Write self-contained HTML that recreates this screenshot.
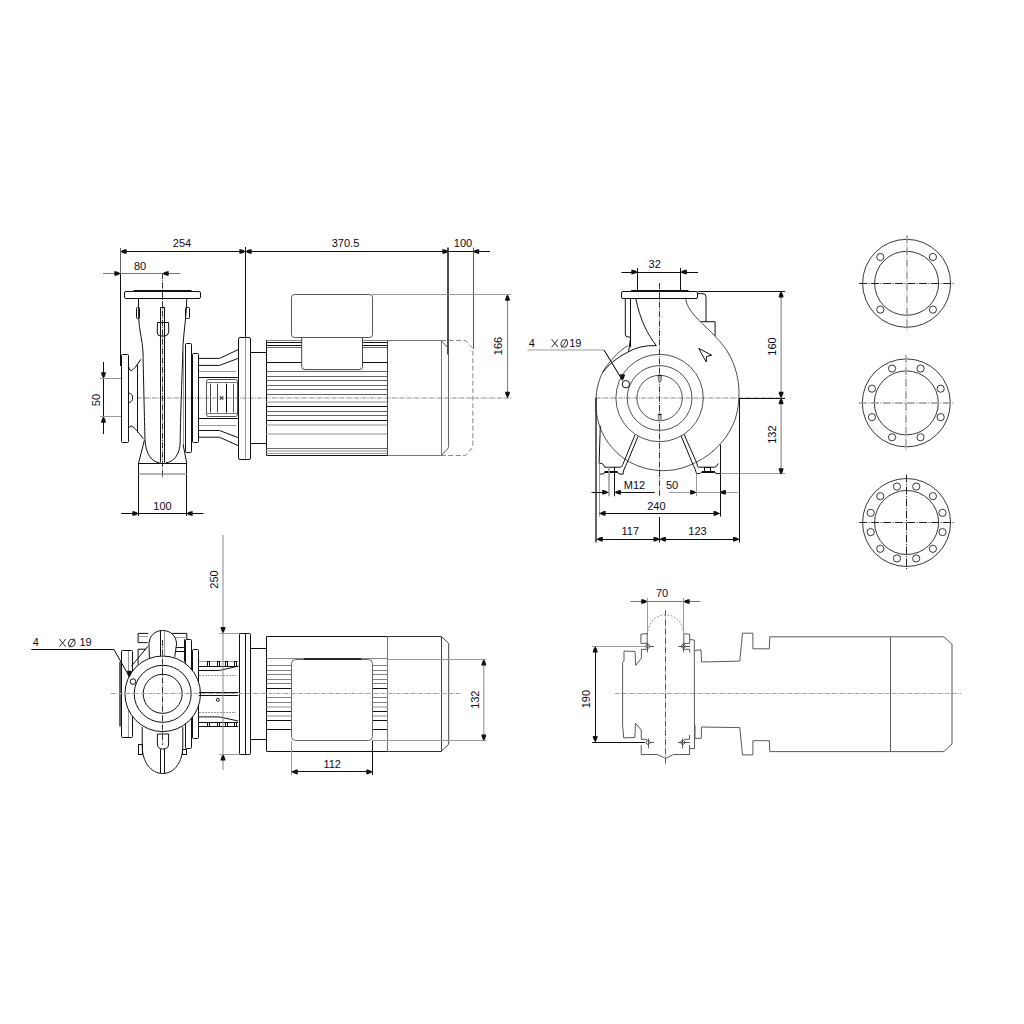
<!DOCTYPE html>
<html><head><meta charset="utf-8"><style>
html,body{margin:0;padding:0;background:#fff;width:1024px;height:1024px;overflow:hidden}
svg{display:block}
text{font-family:"Liberation Sans",sans-serif;fill:#0a0a1e}
</style></head><body>
<svg width="1024" height="1024" viewBox="0 0 1024 1024">
<rect width="1024" height="1024" fill="#fff"/>
<line x1="137" y1="398" x2="511" y2="398" stroke="#8a8a8a" stroke-width="1" stroke-dasharray="4.5,1,1,1"/>
<line x1="162.5" y1="273" x2="162.5" y2="478" stroke="#333" stroke-width="1" stroke-dasharray="6,1.2,1,1.2"/>
<line x1="120.5" y1="251.5" x2="490" y2="251.5" stroke="#111" stroke-width="1"/>
<polygon points="120.5,251.5 122.7,252.9 125.3,253.8 126.7,253.8 126.7,249.2 125.3,249.2 122.7,250.1" fill="#111"/>
<polygon points="245.5,251.5 243.3,250.1 240.7,249.2 239.3,249.2 239.3,253.8 240.7,253.8 243.3,252.9" fill="#111"/>
<polygon points="245.5,251.5 247.7,252.9 250.3,253.8 251.7,253.8 251.7,249.2 250.3,249.2 247.7,250.1" fill="#111"/>
<polygon points="448.5,251.5 446.3,250.1 443.7,249.2 442.3,249.2 442.3,253.8 443.7,253.8 446.3,252.9" fill="#111"/>
<polygon points="473,251.5 475.2,252.9 477.8,253.8 479.2,253.8 479.2,249.2 477.8,249.2 475.2,250.1" fill="#111"/>
<text x="182" y="243" font-size="11" text-anchor="middle" dominant-baseline="central">254</text>
<text x="345.5" y="243" font-size="11" text-anchor="middle" dominant-baseline="central">370.5</text>
<text x="463" y="243" font-size="11" text-anchor="middle" dominant-baseline="central">100</text>
<line x1="120.5" y1="248" x2="120.5" y2="274" stroke="#666" stroke-width="1"/>
<line x1="120.5" y1="274" x2="120.5" y2="366" stroke="#111" stroke-width="1"/>
<line x1="245.5" y1="247" x2="245.5" y2="337.5" stroke="#111" stroke-width="1"/>
<line x1="448" y1="247.5" x2="448" y2="354.5" stroke="#111" stroke-width="1.5"/>
<line x1="473.5" y1="247.5" x2="473.5" y2="349" stroke="#555" stroke-width="1"/>
<line x1="103" y1="273.5" x2="180" y2="273.5" stroke="#777" stroke-width="1"/>
<polygon points="120.5,273.5 118.3,272.1 115.7,271.2 114.3,271.2 114.3,275.8 115.7,275.8 118.3,274.9" fill="#111"/>
<polygon points="162.5,273.5 164.7,274.9 167.3,275.8 168.7,275.8 168.7,271.2 167.3,271.2 164.7,272.1" fill="#111"/>
<text x="140" y="266" font-size="11" text-anchor="middle" dominant-baseline="central">80</text>
<line x1="507.6" y1="294.5" x2="507.6" y2="398" stroke="#777" stroke-width="1"/>
<polygon points="507.5,294.5 506.1,296.7 505.2,299.3 505.2,300.7 509.8,300.7 509.8,299.3 508.9,296.7" fill="#111"/>
<polygon points="507.5,398 508.9,395.8 509.8,393.2 509.8,391.8 505.2,391.8 505.2,393.2 506.1,395.8" fill="#111"/>
<line x1="372" y1="294.5" x2="511" y2="294.5" stroke="#9a9a9a" stroke-width="1"/>
<text x="0" y="0" font-size="11" text-anchor="middle" dominant-baseline="central" transform="translate(498 346) rotate(-90)">166</text>
<line x1="103.5" y1="362" x2="103.5" y2="434" stroke="#111" stroke-width="1"/>
<polygon points="103.5,378.5 104.9,376.3 105.8,373.7 105.8,372.3 101.2,372.3 101.2,373.7 102.1,376.3" fill="#111"/>
<polygon points="103.5,416.5 102.1,418.7 101.2,421.3 101.2,422.7 105.8,422.7 105.8,421.3 104.9,418.7" fill="#111"/>
<line x1="100" y1="378.5" x2="121" y2="378.5" stroke="#9a9a9a" stroke-width="1"/>
<line x1="100" y1="416.5" x2="121" y2="416.5" stroke="#9a9a9a" stroke-width="1"/>
<text x="0" y="0" font-size="11" text-anchor="middle" dominant-baseline="central" transform="translate(95.5 400) rotate(-90)">50</text>
<line x1="121" y1="513.5" x2="203.5" y2="513.5" stroke="#111" stroke-width="1"/>
<polygon points="138.5,513.5 136.3,512.1 133.7,511.2 132.3,511.2 132.3,515.8 133.7,515.8 136.3,514.9" fill="#111"/>
<polygon points="186.5,513.5 188.7,514.9 191.3,515.8 192.7,515.8 192.7,511.2 191.3,511.2 188.7,512.1" fill="#111"/>
<line x1="138.5" y1="463" x2="138.5" y2="516" stroke="#111" stroke-width="1"/>
<line x1="186.5" y1="463" x2="186.5" y2="516" stroke="#111" stroke-width="1"/>
<text x="162.5" y="505.5" font-size="11" text-anchor="middle" dominant-baseline="central">100</text>
<rect x="124.5" y="291.5" width="76" height="7" rx="1.5" stroke="#111" stroke-width="1" fill="none"/>
<line x1="133.5" y1="291" x2="191.5" y2="291" stroke="#111" stroke-width="2"/>
<rect x="136.5" y="307.5" width="3" height="11" rx="1" stroke="#111" stroke-width="1" fill="none"/>
<rect x="185.5" y="307.5" width="4" height="11" rx="1" stroke="#111" stroke-width="1" fill="none"/>
<path d="M138.5 298.5 L138.7 318 C139 330 142.5 340 143 352 C143.5 380 144.5 420 145 440 C146 455 152 462 159.5 462.7" stroke="#111" stroke-width="1" fill="none"/>
<path d="M186.8 298.5 C186.5 315 184 330 183 345 C182 380 180.3 420 180.2 442 C180 455 173 462.5 165.9 462.7" stroke="#111" stroke-width="1" fill="none"/>
<line x1="160.5" y1="307.5" x2="160.5" y2="462.5" stroke="#111" stroke-width="1"/>
<line x1="164.5" y1="307.5" x2="164.5" y2="462.5" stroke="#111" stroke-width="1"/>
<line x1="160.5" y1="307.5" x2="164.8" y2="307.5" stroke="#111" stroke-width="1"/>
<path d="M157.5 322.5 L168.5 322.5 L168.8 332 Q168 336 164.8 336 L160.5 336 Q157.3 336 157.2 332 Z" stroke="#111" stroke-width="1" fill="none"/>
<rect x="121.5" y="354.5" width="7" height="88" rx="1" stroke="#111" stroke-width="1" fill="none"/>
<path d="M128.6 366.8 Q129.5 371 131.1 370.6 Q134 370 140.8 359.3" stroke="#111" stroke-width="1" fill="none"/>
<path d="M128.8 393 Q133 394 132.6 397.8 Q133 401.5 128.8 402.6" stroke="#111" stroke-width="1" fill="none"/>
<path d="M128.6 428 Q129.5 426 131.1 426 Q134 426 143.4 438.9" stroke="#111" stroke-width="1" fill="none"/>
<line x1="137.5" y1="364.7" x2="137.5" y2="432.4" stroke="#111" stroke-width="1"/>
<rect x="185.5" y="343.5" width="6" height="109" rx="1" stroke="#111" stroke-width="1" fill="none"/>
<rect x="192.5" y="353.5" width="6" height="89" rx="1" stroke="#111" stroke-width="1" fill="none"/>
<line x1="183.5" y1="345" x2="183.5" y2="445" stroke="#9a9a9a" stroke-width="1"/>
<line x1="144.4" y1="440.2" x2="138.5" y2="463.3" stroke="#111" stroke-width="1"/>
<line x1="183.1" y1="444.5" x2="186.8" y2="463.3" stroke="#111" stroke-width="1"/>
<line x1="138.5" y1="463.5" x2="186.8" y2="463.5" stroke="#111" stroke-width="1"/>
<line x1="138.5" y1="474" x2="186.8" y2="474" stroke="#9a9a9a" stroke-width="1.5"/>
<path d="M198.7 358.4 L219.5 358.4 L238.9 349.3" stroke="#111" stroke-width="1" fill="none"/>
<path d="M198.7 365.4 L219.5 365.4 L238.9 358.1" stroke="#111" stroke-width="1" fill="none"/>
<line x1="198.7" y1="371.5" x2="236" y2="371.5" stroke="#9a9a9a" stroke-width="1"/>
<line x1="198.7" y1="377.5" x2="238" y2="377.5" stroke="#111" stroke-width="1"/>
<rect x="206.5" y="379.5" width="31" height="37" rx="2" stroke="#555" stroke-width="1" fill="none"/>
<line x1="206.3" y1="382.5" x2="237.1" y2="382.5" stroke="#777" stroke-width="1"/>
<line x1="206.3" y1="413.5" x2="237.1" y2="413.5" stroke="#777" stroke-width="1"/>
<line x1="210.5" y1="383.7" x2="210.5" y2="412.5" stroke="#444" stroke-width="1"/>
<line x1="217.5" y1="383.7" x2="217.5" y2="412.5" stroke="#444" stroke-width="1"/>
<line x1="226.5" y1="383.7" x2="226.5" y2="412.5" stroke="#000" stroke-width="1"/>
<line x1="233.5" y1="383.7" x2="233.5" y2="412.5" stroke="#555" stroke-width="1"/>
<path d="M219.8 396 L223.2 400 M223.2 396 L219.8 400 M220 398 L223 398" stroke="#333" stroke-width="1" fill="none"/>
<line x1="198.7" y1="418.5" x2="238" y2="418.5" stroke="#111" stroke-width="1"/>
<line x1="198.7" y1="425.5" x2="236" y2="425.5" stroke="#9a9a9a" stroke-width="1"/>
<path d="M198.7 430.5 L219.5 430.5 L238.9 437.9" stroke="#111" stroke-width="1" fill="none"/>
<path d="M198.7 437.2 L219.5 437.2 L238.9 446" stroke="#111" stroke-width="1" fill="none"/>
<rect x="238.5" y="337.5" width="12" height="122" rx="1.5" stroke="#111" stroke-width="1" fill="none"/>
<line x1="245.5" y1="337.3" x2="245.5" y2="459.2" stroke="#9a9a9a" stroke-width="1"/>
<line x1="250.6" y1="352.5" x2="266.4" y2="352.5" stroke="#111" stroke-width="1"/>
<line x1="250.6" y1="443.5" x2="266.4" y2="443.5" stroke="#111" stroke-width="1"/>
<line x1="266.4" y1="340.5" x2="387.8" y2="340.5" stroke="#888" stroke-width="1"/>
<line x1="266.4" y1="455.5" x2="387.8" y2="455.5" stroke="#111" stroke-width="1"/>
<line x1="266.5" y1="340.3" x2="266.5" y2="455" stroke="#111" stroke-width="1"/>
<line x1="387.5" y1="340.3" x2="387.5" y2="455" stroke="#666" stroke-width="1"/>
<line x1="266.4" y1="342.5" x2="301.7" y2="342.5" stroke="#111" stroke-width="1"/>
<line x1="362.5" y1="342.5" x2="387.8" y2="342.5" stroke="#111" stroke-width="1"/>
<line x1="266.4" y1="345.5" x2="301.7" y2="345.5" stroke="#111" stroke-width="1"/>
<line x1="362.5" y1="345.5" x2="387.8" y2="345.5" stroke="#111" stroke-width="1"/>
<line x1="266.4" y1="347.5" x2="301.7" y2="347.5" stroke="#666" stroke-width="1"/>
<line x1="362.5" y1="347.5" x2="387.8" y2="347.5" stroke="#666" stroke-width="1"/>
<line x1="266.4" y1="362.5" x2="301.7" y2="362.5" stroke="#111" stroke-width="1"/>
<line x1="362.5" y1="362.5" x2="387.8" y2="362.5" stroke="#111" stroke-width="1"/>
<line x1="266.4" y1="371.5" x2="387.8" y2="371.5" stroke="#666" stroke-width="1"/>
<line x1="266.4" y1="376.5" x2="387.8" y2="376.5" stroke="#666" stroke-width="1"/>
<line x1="266.4" y1="380.5" x2="387.8" y2="380.5" stroke="#666" stroke-width="1"/>
<line x1="266.4" y1="385.5" x2="387.8" y2="385.5" stroke="#666" stroke-width="1"/>
<line x1="266.4" y1="389.5" x2="387.8" y2="389.5" stroke="#666" stroke-width="1"/>
<line x1="266.4" y1="394.5" x2="387.8" y2="394.5" stroke="#666" stroke-width="1"/>
<line x1="266.4" y1="402" x2="387.8" y2="402" stroke="#b4b4b4" stroke-width="1.5"/>
<line x1="266.4" y1="406.5" x2="387.8" y2="406.5" stroke="#111" stroke-width="1"/>
<line x1="266.4" y1="411.5" x2="387.8" y2="411.5" stroke="#666" stroke-width="1"/>
<line x1="266.4" y1="415.5" x2="387.8" y2="415.5" stroke="#666" stroke-width="1"/>
<line x1="266.4" y1="420.5" x2="387.8" y2="420.5" stroke="#111" stroke-width="1"/>
<line x1="266.4" y1="425" x2="387.8" y2="425" stroke="#b4b4b4" stroke-width="1.5"/>
<line x1="266.4" y1="434" x2="387.8" y2="434" stroke="#b4b4b4" stroke-width="1.5"/>
<line x1="266.4" y1="448.5" x2="387.8" y2="448.5" stroke="#666" stroke-width="1"/>
<line x1="266.4" y1="451" x2="387.8" y2="451" stroke="#b4b4b4" stroke-width="1.5"/>
<line x1="266.4" y1="453.5" x2="387.8" y2="453.5" stroke="#9a9a9a" stroke-width="1"/>
<path d="M301.7 337.2 L301.7 366.5 Q301.7 369.6 305 369.6 L359.2 369.6 Q362.5 369.6 362.5 366.5 L362.5 337.2" stroke="#444" stroke-width="1" fill="#fff"/>
<rect x="291.5" y="294.5" width="81" height="43" rx="3" stroke="#555" stroke-width="1" fill="#fff"/>
<line x1="387.8" y1="340.5" x2="441.1" y2="340.5" stroke="#777" stroke-width="1"/>
<line x1="387.8" y1="455.5" x2="441.1" y2="455.5" stroke="#777" stroke-width="1"/>
<line x1="387.5" y1="340.3" x2="387.5" y2="455.8" stroke="#444" stroke-width="1"/>
<line x1="441.5" y1="340.3" x2="441.5" y2="455.8" stroke="#777" stroke-width="1"/>
<path d="M441.1 340.5 L448.5 348.4 M448.5 447.7 L441.1 455.8" stroke="#555" stroke-width="1" fill="none"/>
<line x1="448.5" y1="354" x2="448.5" y2="447.7" stroke="#666" stroke-width="1"/>
<path d="M441.1 340.5 L465.5 340.5 L472.9 348.4 L472.9 447.3 L465.5 455.5 L441.1 455.5" stroke="#888" stroke-width="1" fill="none" stroke-dasharray="5,2.5"/>
<line x1="596" y1="398" x2="785" y2="398" stroke="#888" stroke-width="1" stroke-dasharray="4.5,1,1,1"/>
<line x1="739" y1="398.5" x2="785" y2="398.5" stroke="#111" stroke-width="1"/>
<line x1="659.5" y1="283" x2="659.5" y2="497" stroke="#333" stroke-width="1" stroke-dasharray="6,1.2,1,1.2"/>
<line x1="659.5" y1="517" x2="659.5" y2="542.5" stroke="#111" stroke-width="1"/>
<circle cx="659.6" cy="398" r="43.7" stroke="#333" stroke-width="0.85" fill="none"/>
<circle cx="659.6" cy="398" r="32.4" stroke="#333" stroke-width="0.85" fill="none"/>
<circle cx="659.6" cy="398" r="22.7" stroke="#333" stroke-width="0.85" fill="none"/>
<path d="M658 375.4 L661.6 375.4 L661.2 381 Q659.8 383.2 658.4 381 Z" stroke="#555" stroke-width="0.7" fill="#aaa"/>
<line x1="658" y1="375.5" x2="661.6" y2="375.5" stroke="#111" stroke-width="1.2"/>
<path d="M658.2 414.3 L661.4 414.3 L661.4 420.4 L658.2 420.4 Z" stroke="#777" stroke-width="0.6" fill="#aaa"/>
<line x1="658.2" y1="414.5" x2="661.4" y2="414.5" stroke="#111" stroke-width="1.2"/>
<circle cx="625.9" cy="384.2" r="3.7" stroke="#111" stroke-width="1" fill="none"/>
<path d="M627.9 345.65 L626.09 346.8 L624.33 348.01 L622.62 349.28 L620.95 350.61 L619.32 351.99 L617.75 353.43 L616.22 354.93 L614.76 356.47 L613.34 358.07 L611.95 359.69 L610.49 361.26 L609.08 362.89 L607.73 364.57 L606.43 366.3 L605.19 368.09 L604.01 369.92 L602.92 371.81 L601.96 373.77 L601.07 375.77 L600.25 377.8 L599.5 379.86 L598.82 381.94 L598.21 384.05 L597.68 386.19 L597.22 388.34 L596.84 390.52 L596.53 392.7 L596.3 394.9 L596.14 397.11 L595.99 399.33 L595.86 401.56 L595.81 403.81 L595.84 406.06 L595.94 408.31 L596.13 410.57 L596.4 412.82 L596.75 415.08 L597.18 417.32 L597.69 419.56 L598.27 421.79 L598.93 424 L599.66 426.2 L600.48 428.38 L601.38 430.54 L602.35 432.67 L603.41 434.77 L604.54 436.84 L605.74 438.88 L607.03 440.88 L608.38 442.84 L609.81 444.75 L611.31 446.63 L612.88 448.45 L614.52 450.22 L616.23 451.94 L618 453.61 L619.84 455.21 L621.73 456.76 L623.69 458.24 L625.7 459.66 L627.77 461.01 L629.93 462.21 L632.13 463.34 L634.38 464.39 L636.67 465.37 L638.99 466.26 L641.35 467.08 L643.74 467.81 L646.16 468.46 L648.6 469.03 L651.07 469.51 L653.56 469.91 L656.07 470.21 L658.59 470.44 L661.12 470.57 L663.66 470.6 L666.2 470.55 L668.75 470.41 L671.29 470.18 L673.83 469.86 L676.35 469.4 L678.84 468.83 L681.32 468.17 L683.77 467.42 L686.2 466.59 L688.6 465.67 L690.97 464.66 L693.3 463.58 L695.6 462.41 L697.91 461.26 L700.2 460.05 L702.45 458.75 L704.67 457.37 L706.83 455.92 L708.96 454.38 L711.03 452.76 L713.04 451.07 L715.01 449.31 L716.91 447.47 L718.75 445.56 L720.55 443.59 L722.29 441.57 L723.97 439.48 L725.57 437.33 L727.11 435.11 L728.57 432.84 L729.95 430.51 L731.26 428.12 L732.48 425.68 L733.62 423.2 L734.66 420.66 L735.5 418.05 L736.24 415.41 L736.9 412.75 L737.46 410.05 L737.93 407.34 L738.3 404.61 L738.57 401.86 L738.75 399.11 L738.89 396.34 L738.96 393.56 L738.94 390.78 L738.81 387.99 L738.59 385.21 L738.27 382.42 L737.85 379.65 L737.34 376.88 L736.72 374.13 L736.01 371.39 L735.2 368.68 L734.3 365.98 L733.3 363.32 L732.2 360.69 L731.01 358.09 L729.72 355.53 L728.29 353.05 L726.76 350.62 L725.15 348.24 L723.45 345.92 L721.68 343.66 L719.82 341.45 L717.88 339.31 L715.86 337.24 L714.4 335.4 C700 321 687 311 685.7 298.5" stroke="#333" stroke-width="0.9" fill="none"/>
<rect x="621.5" y="291.5" width="76" height="7" rx="1.5" stroke="#111" stroke-width="1" fill="none"/>
<line x1="631" y1="291" x2="688.4" y2="291" stroke="#111" stroke-width="2"/>
<line x1="637.5" y1="268" x2="637.5" y2="290" stroke="#111" stroke-width="1"/>
<line x1="680.5" y1="268" x2="680.5" y2="290" stroke="#111" stroke-width="1"/>
<path d="M625.3 299 L625.3 334 Q625.3 337 628 337 L630.7 337" stroke="#111" stroke-width="1" fill="none"/>
<line x1="630.5" y1="299" x2="630.5" y2="347" stroke="#111" stroke-width="1"/>
<path d="M630.7 337 L628.6 351.8" stroke="#111" stroke-width="1" fill="none"/>
<path d="M635.8 298.5 C640 320 648 335 656.3 345.6 Q640 345 628 352 Q612 360 603 372" stroke="#111" stroke-width="1" fill="none"/>
<path d="M697.5 293.7 L703 293.7 Q706 293.7 706 297 L706 321.7" stroke="#111" stroke-width="1" fill="none"/>
<path d="M700.7 321.7 L715.1 321.7 L715.1 336" stroke="#111" stroke-width="1" fill="none"/>
<path d="M698.7 348.4 L711.7 355.2 L706.5 356.5 L706.2 362 Z" stroke="#111" stroke-width="1" fill="none"/>
<line x1="600.3" y1="425.9" x2="599.1" y2="463.4" stroke="#111" stroke-width="1"/>
<path d="M599.1 463.4 L601.7 463.4 Q603.5 463.5 604.6 467.2 L620.5 467.2 Q622 467 622.8 464.5 L635.1 434.6" stroke="#111" stroke-width="1" fill="none"/>
<path d="M638 436.4 L628.1 460.4 L623.4 471 L623.1 474.2" stroke="#111" stroke-width="1" fill="none"/>
<path d="M599.4 474.2 L603.5 473.9 Q604.2 472.4 605 472.4 L617.5 472.4 Q618.3 472.4 618.7 473.9 L623.1 474.2" stroke="#111" stroke-width="1" fill="none"/>
<line x1="604.4" y1="472" x2="617.5" y2="472" stroke="#111" stroke-width="2"/>
<line x1="609" y1="467.2" x2="609" y2="496.3" stroke="#9a9a9a" stroke-width="1.5"/>
<line x1="614.5" y1="467.2" x2="614.5" y2="496.3" stroke="#111" stroke-width="1"/>
<path d="M681.2 436.1 L693.2 465.1 Q695.5 469 696.4 473.3" stroke="#111" stroke-width="1" fill="none"/>
<path d="M684.1 434.4 L696.7 462.8 Q697.5 467.2 698.4 467.2 L714.8 467.2 Q716.5 467 718.4 463.4" stroke="#111" stroke-width="1" fill="none"/>
<path d="M696.4 473.6 L700 473.6 Q701 472.1 702 472.1 L714.8 472.1 Q715.5 472.1 716 473.6 L720.4 473.6" stroke="#111" stroke-width="1" fill="none"/>
<line x1="702" y1="472" x2="714.8" y2="472" stroke="#111" stroke-width="2"/>
<rect x="704.5" y="467.5" width="6" height="5" rx="0" stroke="#111" stroke-width="1" fill="none"/>
<line x1="720.5" y1="444.6" x2="720.5" y2="516.6" stroke="#111" stroke-width="1"/>
<line x1="720.4" y1="473.5" x2="785" y2="473.5" stroke="#9a9a9a" stroke-width="1"/>
<line x1="697.8" y1="291.5" x2="785" y2="291.5" stroke="#111" stroke-width="1"/>
<line x1="596" y1="398" x2="596" y2="542.5" stroke="#111" stroke-width="1.3"/>
<line x1="739.5" y1="398" x2="739.5" y2="542.5" stroke="#111" stroke-width="1"/>
<line x1="599.5" y1="463.4" x2="599.5" y2="516.6" stroke="#9a9a9a" stroke-width="1"/>
<line x1="621.5" y1="272.5" x2="698" y2="272.5" stroke="#111" stroke-width="1"/>
<polygon points="637.5,272 635.3,270.6 632.7,269.7 631.3,269.7 631.3,274.3 632.7,274.3 635.3,273.4" fill="#111"/>
<polygon points="680.7,272 682.9,273.4 685.5,274.3 686.9,274.3 686.9,269.7 685.5,269.7 682.9,270.6" fill="#111"/>
<text x="654.7" y="263.8" font-size="11" text-anchor="middle" dominant-baseline="central">32</text>
<line x1="781.1" y1="291.2" x2="781.1" y2="474.4" stroke="#777" stroke-width="1"/>
<polygon points="781.1,291.2 779.7,293.4 778.8,296 778.8,297.4 783.4,297.4 783.4,296 782.5,293.4" fill="#111"/>
<polygon points="781.1,398 782.5,395.8 783.4,393.2 783.4,391.8 778.8,391.8 778.8,393.2 779.7,395.8" fill="#111"/>
<polygon points="781.1,398 779.7,400.2 778.8,402.8 778.8,404.2 783.4,404.2 783.4,402.8 782.5,400.2" fill="#111"/>
<polygon points="781.1,474.4 782.5,472.2 783.4,469.6 783.4,468.2 778.8,468.2 778.8,469.6 779.7,472.2" fill="#111"/>
<text x="0" y="0" font-size="11" text-anchor="middle" dominant-baseline="central" transform="translate(771.8 346.5) rotate(-90)">160</text>
<text x="0" y="0" font-size="11" text-anchor="middle" dominant-baseline="central" transform="translate(771.8 434.6) rotate(-90)">132</text>
<line x1="591.6" y1="492.5" x2="608.4" y2="492.5" stroke="#111" stroke-width="1"/>
<polygon points="608.4,492.3 606.2,490.9 603.6,490 602.2,490 602.2,494.6 603.6,494.6 606.2,493.7" fill="#111"/>
<line x1="614.7" y1="492.5" x2="654.8" y2="492.5" stroke="#111" stroke-width="1"/>
<polygon points="614.7,492.3 616.9,493.7 619.5,494.6 620.9,494.6 620.9,490 619.5,490 616.9,490.9" fill="#111"/>
<text x="634.5" y="485" font-size="11" text-anchor="middle" dominant-baseline="central">M12</text>
<text x="672" y="485" font-size="11" text-anchor="middle" dominant-baseline="central">50</text>
<line x1="669" y1="492.5" x2="737.7" y2="492.5" stroke="#9a9a9a" stroke-width="1"/>
<polygon points="696.3,492.3 694.1,490.9 691.5,490 690.1,490 690.1,494.6 691.5,494.6 694.1,493.7" fill="#111"/>
<polygon points="719.7,492.3 721.9,493.7 724.5,494.6 725.9,494.6 725.9,490 724.5,490 721.9,490.9" fill="#111"/>
<line x1="696.5" y1="473.6" x2="696.5" y2="496" stroke="#9a9a9a" stroke-width="1"/>
<line x1="599.4" y1="513.5" x2="719.7" y2="513.5" stroke="#111" stroke-width="1"/>
<polygon points="599.4,513.4 601.6,514.8 604.2,515.7 605.6,515.7 605.6,511.1 604.2,511.1 601.6,512" fill="#111"/>
<polygon points="719.7,513.4 717.5,512 714.9,511.1 713.5,511.1 713.5,515.7 714.9,515.7 717.5,514.8" fill="#111"/>
<text x="656.4" y="506" font-size="11" text-anchor="middle" dominant-baseline="central">240</text>
<line x1="596.6" y1="539.5" x2="739.2" y2="539.5" stroke="#111" stroke-width="1"/>
<polygon points="596.6,539.2 598.8,540.6 601.4,541.5 602.8,541.5 602.8,536.9 601.4,536.9 598.8,537.8" fill="#111"/>
<polygon points="659.7,539.2 657.5,537.8 654.9,536.9 653.5,536.9 653.5,541.5 654.9,541.5 657.5,540.6" fill="#111"/>
<polygon points="659.7,539.2 661.9,540.6 664.5,541.5 665.9,541.5 665.9,536.9 664.5,536.9 661.9,537.8" fill="#111"/>
<polygon points="739.2,539.2 737,537.8 734.4,536.9 733,536.9 733,541.5 734.4,541.5 737,540.6" fill="#111"/>
<text x="630.3" y="530.6" font-size="11" text-anchor="middle" dominant-baseline="central">117</text>
<text x="697.5" y="531.4" font-size="11" text-anchor="middle" dominant-baseline="central">123</text>
<path d="M527.3 350 L604 350 L622 379" stroke="#9a9a9a" stroke-width="1" fill="none"/>
<line x1="604" y1="350" x2="622.5" y2="380.5" stroke="#111" stroke-width="1"/>
<polygon points="622.5,380.5 623.9,378.3 624.8,375.7 624.8,374.3 620.2,374.3 620.2,375.7 621.1,378.3" fill="#111"/>
<text x="531.7" y="343.1" font-size="11" text-anchor="middle" dominant-baseline="central">4</text>
<path d="M551.6 339.3 L558 347.3 M558 339.3 L551.6 347.3" stroke="#222" stroke-width="0.95" fill="none"/>
<ellipse cx="564.3" cy="343.4" rx="3.2" ry="3.7" transform="rotate(20 564.3 343.4)" stroke="#333" stroke-width="0.95" fill="none"/>
<line x1="561.6" y1="347.8" x2="567" y2="339" stroke="#333" stroke-width="0.95"/>
<text x="575.3" y="343.1" font-size="11" text-anchor="middle" dominant-baseline="central">19</text>
<circle cx="906.6" cy="283.3" r="44" stroke="#222" stroke-width="0.9" fill="none"/>
<circle cx="906.6" cy="283.3" r="32" stroke="#222" stroke-width="0.9" fill="none"/>
<circle cx="932.9" cy="257" r="3.6" stroke="#222" stroke-width="0.9" fill="none"/>
<circle cx="932.9" cy="309.6" r="3.6" stroke="#222" stroke-width="0.9" fill="none"/>
<circle cx="880.3" cy="309.6" r="3.6" stroke="#222" stroke-width="0.9" fill="none"/>
<circle cx="880.3" cy="257" r="3.6" stroke="#222" stroke-width="0.9" fill="none"/>
<line x1="859.1" y1="283.5" x2="954.6" y2="283.5" stroke="#222" stroke-width="1" stroke-dasharray="8,1.5,1,1.5"/>
<line x1="907" y1="235.3" x2="907" y2="331.3" stroke="#999" stroke-width="1.4" stroke-dasharray="8,1.5,1,1.5"/>
<circle cx="906.3" cy="402.9" r="44" stroke="#222" stroke-width="0.9" fill="none"/>
<circle cx="906.3" cy="402.9" r="32" stroke="#222" stroke-width="0.9" fill="none"/>
<circle cx="920.54" cy="368.53" r="3.6" stroke="#222" stroke-width="0.9" fill="none"/>
<circle cx="940.67" cy="388.66" r="3.6" stroke="#222" stroke-width="0.9" fill="none"/>
<circle cx="940.67" cy="417.14" r="3.6" stroke="#222" stroke-width="0.9" fill="none"/>
<circle cx="920.54" cy="437.27" r="3.6" stroke="#222" stroke-width="0.9" fill="none"/>
<circle cx="892.06" cy="437.27" r="3.6" stroke="#222" stroke-width="0.9" fill="none"/>
<circle cx="871.93" cy="417.14" r="3.6" stroke="#222" stroke-width="0.9" fill="none"/>
<circle cx="871.93" cy="388.66" r="3.6" stroke="#222" stroke-width="0.9" fill="none"/>
<circle cx="892.06" cy="368.53" r="3.6" stroke="#222" stroke-width="0.9" fill="none"/>
<line x1="858.8" y1="403" x2="954.3" y2="403" stroke="#999" stroke-width="1.4" stroke-dasharray="8,1.5,1,1.5"/>
<line x1="906" y1="354.9" x2="906" y2="450.9" stroke="#999" stroke-width="1.4" stroke-dasharray="8,1.5,1,1.5"/>
<circle cx="906.6" cy="522.5" r="44" stroke="#222" stroke-width="0.9" fill="none"/>
<circle cx="906.6" cy="522.5" r="32" stroke="#222" stroke-width="0.9" fill="none"/>
<circle cx="916.23" cy="486.57" r="3.6" stroke="#222" stroke-width="0.9" fill="none"/>
<circle cx="932.9" cy="496.2" r="3.6" stroke="#222" stroke-width="0.9" fill="none"/>
<circle cx="942.53" cy="512.87" r="3.6" stroke="#222" stroke-width="0.9" fill="none"/>
<circle cx="942.53" cy="532.13" r="3.6" stroke="#222" stroke-width="0.9" fill="none"/>
<circle cx="932.9" cy="548.8" r="3.6" stroke="#222" stroke-width="0.9" fill="none"/>
<circle cx="916.23" cy="558.43" r="3.6" stroke="#222" stroke-width="0.9" fill="none"/>
<circle cx="896.97" cy="558.43" r="3.6" stroke="#222" stroke-width="0.9" fill="none"/>
<circle cx="880.3" cy="548.8" r="3.6" stroke="#222" stroke-width="0.9" fill="none"/>
<circle cx="870.67" cy="532.13" r="3.6" stroke="#222" stroke-width="0.9" fill="none"/>
<circle cx="870.67" cy="512.87" r="3.6" stroke="#222" stroke-width="0.9" fill="none"/>
<circle cx="880.3" cy="496.2" r="3.6" stroke="#222" stroke-width="0.9" fill="none"/>
<circle cx="896.97" cy="486.57" r="3.6" stroke="#222" stroke-width="0.9" fill="none"/>
<line x1="859.1" y1="522.5" x2="954.6" y2="522.5" stroke="#222" stroke-width="1" stroke-dasharray="8,1.5,1,1.5"/>
<line x1="906.5" y1="474.5" x2="906.5" y2="570.5" stroke="#222" stroke-width="1" stroke-dasharray="8,1.5,1,1.5"/>
<rect x="121.5" y="650.5" width="11" height="87" rx="1" stroke="#111" stroke-width="1" fill="none"/>
<line x1="128.5" y1="651" x2="128.5" y2="737" stroke="#9a9a9a" stroke-width="1"/>
<line x1="120" y1="662" x2="120" y2="726.6" stroke="#111" stroke-width="1.3"/>
<path d="M148.3 633.4 L138.1 633.4 L138.1 642.6 L147.6 642.6" stroke="#111" stroke-width="1" fill="none"/>
<line x1="138.5" y1="636.5" x2="148" y2="636.5" stroke="#9a9a9a" stroke-width="1"/>
<path d="M146 649.2 L138.1 649.2 L138.1 664.6" stroke="#111" stroke-width="1" fill="none"/>
<path d="M148 646.2 L131.5 666" stroke="#111" stroke-width="1" fill="none"/>
<path d="M164.8 633.4 L186.8 633.4 L186.8 639.3" stroke="#111" stroke-width="1" fill="none"/>
<line x1="174" y1="637.5" x2="185.7" y2="637.5" stroke="#9a9a9a" stroke-width="1"/>
<rect x="171.5" y="647.5" width="13" height="4" rx="0" stroke="#111" stroke-width="1" fill="none"/>
<line x1="184.5" y1="639.3" x2="184.5" y2="661.6" stroke="#111" stroke-width="1"/>
<path d="M149.4 658 L149 644 C149 636 155 630.5 162.6 630.5 C170.5 630.5 176.5 636 176.5 644 L174.7 657.2" stroke="#111" stroke-width="1" fill="#fff"/>
<line x1="160.5" y1="630.8" x2="160.5" y2="656" stroke="#111" stroke-width="1"/>
<line x1="164.5" y1="630.8" x2="164.5" y2="656" stroke="#9a9a9a" stroke-width="1"/>
<path d="M142.2 727 L142.2 746 C142.2 762 151 773.5 162.7 773.5 C174.4 773.5 182.8 762 182.8 746 L182.8 727" stroke="#111" stroke-width="1" fill="#fff"/>
<path d="M157.4 734 L157.4 744 Q157.4 749 162.7 749 Q168.6 749 168.6 744 L168.6 734 Z" stroke="#111" stroke-width="1" fill="none"/>
<line x1="160.5" y1="749" x2="160.5" y2="773" stroke="#111" stroke-width="1"/>
<line x1="164.5" y1="749" x2="164.5" y2="773" stroke="#111" stroke-width="1"/>
<rect x="138.5" y="744.5" width="4" height="10" rx="0" stroke="#111" stroke-width="1" fill="none"/>
<rect x="182.5" y="749.5" width="4" height="5" rx="0" stroke="#111" stroke-width="1" fill="none"/>
<rect x="185.5" y="639.5" width="6" height="109" rx="1" stroke="#111" stroke-width="1" fill="none"/>
<rect x="192.5" y="649.5" width="6" height="89" rx="1" stroke="#111" stroke-width="1" fill="none"/>
<circle cx="162.7" cy="693.8" r="37.8" stroke="#111" stroke-width="1" fill="#fff"/>
<circle cx="162.7" cy="693.8" r="28.5" stroke="#111" stroke-width="1" fill="none"/>
<circle cx="162.7" cy="693.8" r="19.5" stroke="#111" stroke-width="1" fill="none"/>
<circle cx="133" cy="681.6" r="2.8" stroke="#111" stroke-width="1" fill="none"/>
<line x1="162.5" y1="640" x2="162.5" y2="745" stroke="#333" stroke-width="1" stroke-dasharray="6,1.2,1,1.2"/>
<line x1="31.3" y1="649.5" x2="113.9" y2="649.5" stroke="#111" stroke-width="1"/>
<line x1="113.9" y1="649.4" x2="129.5" y2="677" stroke="#111" stroke-width="1"/>
<polygon points="129.5,677 130.9,674.8 131.8,672.2 131.8,670.8 127.2,670.8 127.2,672.2 128.1,674.8" fill="#111"/>
<text x="35.7" y="641.7" font-size="11" text-anchor="middle" dominant-baseline="central">4</text>
<path d="M59.3 639 L65.8 646.8 M65.8 639 L59.3 646.8" stroke="#222" stroke-width="0.95" fill="none"/>
<ellipse cx="71.8" cy="643" rx="3.2" ry="3.7" transform="rotate(20 71.8 643)" stroke="#333" stroke-width="0.95" fill="none"/>
<line x1="69.2" y1="647.4" x2="74.5" y2="638.6" stroke="#333" stroke-width="0.95"/>
<text x="85.5" y="641.7" font-size="11" text-anchor="middle" dominant-baseline="central">19</text>
<line x1="198.8" y1="661.5" x2="238.3" y2="661.5" stroke="#9a9a9a" stroke-width="1"/>
<line x1="198.8" y1="666.5" x2="238.3" y2="666.5" stroke="#111" stroke-width="1"/>
<rect x="207.5" y="661.5" width="2" height="5" rx="0" stroke="#111" stroke-width="1" fill="none"/>
<rect x="217.5" y="661.5" width="2" height="5" rx="0" stroke="#111" stroke-width="1" fill="none"/>
<rect x="225.5" y="661.5" width="2" height="5" rx="0" stroke="#111" stroke-width="1" fill="none"/>
<rect x="234.5" y="661.5" width="2" height="5" rx="0" stroke="#111" stroke-width="1" fill="none"/>
<path d="M198.8 670.5 L219.3 670.5 L238.3 666.1" stroke="#111" stroke-width="1" fill="none"/>
<line x1="199" y1="675.5" x2="236" y2="675.5" stroke="#9a9a9a" stroke-width="1" stroke-dasharray="2,1"/>
<line x1="198.8" y1="692.5" x2="238.3" y2="692.5" stroke="#111" stroke-width="1"/>
<line x1="198.8" y1="695.5" x2="238.3" y2="695.5" stroke="#111" stroke-width="1"/>
<circle cx="217.8" cy="699.8" r="1.5" stroke="#111" stroke-width="1" fill="none"/>
<line x1="199" y1="712.5" x2="236" y2="712.5" stroke="#9a9a9a" stroke-width="1" stroke-dasharray="2,1"/>
<path d="M198.8 716.9 L219.3 716.9 L238.3 721" stroke="#111" stroke-width="1" fill="none"/>
<line x1="198.8" y1="722.5" x2="238.3" y2="722.5" stroke="#111" stroke-width="1"/>
<line x1="198.8" y1="726.5" x2="238.3" y2="726.5" stroke="#111" stroke-width="1"/>
<rect x="207.5" y="722.5" width="2" height="4" rx="0" stroke="#111" stroke-width="1" fill="none"/>
<rect x="217.5" y="722.5" width="2" height="4" rx="0" stroke="#111" stroke-width="1" fill="none"/>
<rect x="225.5" y="722.5" width="2" height="4" rx="0" stroke="#111" stroke-width="1" fill="none"/>
<rect x="234.5" y="722.5" width="2" height="4" rx="0" stroke="#111" stroke-width="1" fill="none"/>
<line x1="223" y1="535" x2="223" y2="770" stroke="#888" stroke-width="1"/>
<polygon points="223,633.2 224.4,631 225.3,628.4 225.3,627 220.7,627 220.7,628.4 221.6,631" fill="#111"/>
<polygon points="223,754.4 221.6,756.6 220.7,759.2 220.7,760.6 225.3,760.6 225.3,759.2 224.4,756.6" fill="#111"/>
<line x1="219.3" y1="633.5" x2="250" y2="633.5" stroke="#9a9a9a" stroke-width="1"/>
<line x1="219.3" y1="754.5" x2="250" y2="754.5" stroke="#9a9a9a" stroke-width="1"/>
<text x="0" y="0" font-size="11" text-anchor="middle" dominant-baseline="central" transform="translate(214.2 579.5) rotate(-90)">250</text>
<rect x="239.5" y="633.5" width="11" height="121" rx="1" stroke="#111" stroke-width="1" fill="none"/>
<line x1="245.5" y1="634" x2="245.5" y2="754" stroke="#111" stroke-width="1"/>
<line x1="250.3" y1="648.5" x2="266.6" y2="648.5" stroke="#111" stroke-width="1"/>
<line x1="250.3" y1="739.5" x2="266.6" y2="739.5" stroke="#111" stroke-width="1"/>
<line x1="266.6" y1="636.5" x2="387.7" y2="636.5" stroke="#111" stroke-width="1"/>
<line x1="266.6" y1="751.5" x2="387.7" y2="751.5" stroke="#111" stroke-width="1"/>
<line x1="266.5" y1="636.4" x2="266.5" y2="751.2" stroke="#111" stroke-width="1"/>
<line x1="266.6" y1="658.5" x2="387.7" y2="658.5" stroke="#888" stroke-width="1.2"/>
<line x1="266.6" y1="729.5" x2="387.7" y2="729.5" stroke="#111" stroke-width="1"/>
<line x1="266.6" y1="665.5" x2="291.6" y2="665.5" stroke="#808080" stroke-width="1"/>
<line x1="372.5" y1="665.5" x2="387.7" y2="665.5" stroke="#808080" stroke-width="1"/>
<line x1="266.6" y1="670.5" x2="291.6" y2="670.5" stroke="#808080" stroke-width="1"/>
<line x1="372.5" y1="670.5" x2="387.7" y2="670.5" stroke="#808080" stroke-width="1"/>
<line x1="266.6" y1="674.5" x2="291.6" y2="674.5" stroke="#808080" stroke-width="1"/>
<line x1="372.5" y1="674.5" x2="387.7" y2="674.5" stroke="#808080" stroke-width="1"/>
<line x1="266.6" y1="679.5" x2="291.6" y2="679.5" stroke="#808080" stroke-width="1"/>
<line x1="372.5" y1="679.5" x2="387.7" y2="679.5" stroke="#808080" stroke-width="1"/>
<line x1="266.6" y1="683.5" x2="291.6" y2="683.5" stroke="#808080" stroke-width="1"/>
<line x1="372.5" y1="683.5" x2="387.7" y2="683.5" stroke="#808080" stroke-width="1"/>
<line x1="266.6" y1="688.5" x2="291.6" y2="688.5" stroke="#111" stroke-width="1"/>
<line x1="372.5" y1="688.5" x2="387.7" y2="688.5" stroke="#111" stroke-width="1"/>
<line x1="266.6" y1="697.5" x2="291.6" y2="697.5" stroke="#808080" stroke-width="1"/>
<line x1="372.5" y1="697.5" x2="387.7" y2="697.5" stroke="#808080" stroke-width="1"/>
<line x1="266.6" y1="702.5" x2="291.6" y2="702.5" stroke="#808080" stroke-width="1"/>
<line x1="372.5" y1="702.5" x2="387.7" y2="702.5" stroke="#808080" stroke-width="1"/>
<line x1="266.6" y1="707" x2="291.6" y2="707" stroke="#b4b4b4" stroke-width="1.5"/>
<line x1="372.5" y1="707" x2="387.7" y2="707" stroke="#b4b4b4" stroke-width="1.5"/>
<line x1="266.6" y1="711.5" x2="291.6" y2="711.5" stroke="#111" stroke-width="1"/>
<line x1="372.5" y1="711.5" x2="387.7" y2="711.5" stroke="#111" stroke-width="1"/>
<line x1="266.6" y1="716" x2="291.6" y2="716" stroke="#b4b4b4" stroke-width="1.5"/>
<line x1="372.5" y1="716" x2="387.7" y2="716" stroke="#b4b4b4" stroke-width="1.5"/>
<line x1="266.6" y1="720.5" x2="291.6" y2="720.5" stroke="#111" stroke-width="1"/>
<line x1="372.5" y1="720.5" x2="387.7" y2="720.5" stroke="#111" stroke-width="1"/>
<rect x="291.5" y="659.5" width="81" height="81" rx="4" stroke="#666" stroke-width="1" fill="#fff"/>
<line x1="303.8" y1="659" x2="361.2" y2="659" stroke="#111" stroke-width="1.3"/>
<line x1="387.7" y1="636.5" x2="441.6" y2="636.5" stroke="#333" stroke-width="1"/>
<line x1="387.7" y1="751.5" x2="441.6" y2="751.5" stroke="#333" stroke-width="1"/>
<line x1="387.5" y1="636.4" x2="387.5" y2="751.2" stroke="#777" stroke-width="1"/>
<line x1="441.5" y1="636.4" x2="441.5" y2="751.2" stroke="#444" stroke-width="1"/>
<path d="M441.6 636.6 L448.7 643.4 L448.7 744.2 L441.6 751" stroke="#444" stroke-width="1" fill="none"/>
<line x1="387.7" y1="659.5" x2="486.2" y2="659.5" stroke="#9a9a9a" stroke-width="1"/>
<line x1="372.5" y1="740.5" x2="486.2" y2="740.5" stroke="#9a9a9a" stroke-width="1"/>
<line x1="483.8" y1="659.4" x2="483.8" y2="740.7" stroke="#888" stroke-width="1"/>
<polygon points="483.8,659.4 482.4,661.6 481.5,664.2 481.5,665.6 486.1,665.6 486.1,664.2 485.2,661.6" fill="#111"/>
<polygon points="483.8,740.7 485.2,738.5 486.1,735.9 486.1,734.5 481.5,734.5 481.5,735.9 482.4,738.5" fill="#111"/>
<text x="0" y="0" font-size="11" text-anchor="middle" dominant-baseline="central" transform="translate(475.1 699.7) rotate(-90)">132</text>
<line x1="291.5" y1="740.7" x2="291.5" y2="775" stroke="#9a9a9a" stroke-width="1"/>
<line x1="372.5" y1="740.7" x2="372.5" y2="775" stroke="#111" stroke-width="1"/>
<line x1="291.6" y1="771.5" x2="372.5" y2="771.5" stroke="#111" stroke-width="1"/>
<polygon points="291.6,771.9 293.8,773.3 296.4,774.2 297.8,774.2 297.8,769.6 296.4,769.6 293.8,770.5" fill="#111"/>
<polygon points="372.5,771.9 370.3,770.5 367.7,769.6 366.3,769.6 366.3,774.2 367.7,774.2 370.3,773.3" fill="#111"/>
<text x="332.2" y="764.2" font-size="11" text-anchor="middle" dominant-baseline="central">112</text>
<line x1="111" y1="693.5" x2="461.5" y2="693.5" stroke="#a3a3a3" stroke-width="1" stroke-dasharray="4.5,1,1,1"/>
<line x1="614.8" y1="693.5" x2="961" y2="693.5" stroke="#a3a3a3" stroke-width="1" stroke-dasharray="4.5,1,1,1"/>
<line x1="665.5" y1="610.3" x2="665.5" y2="763.7" stroke="#555" stroke-width="1" stroke-dasharray="6,1.2,0.8,1.2"/>
<line x1="630.4" y1="601.5" x2="700.1" y2="601.5" stroke="#777" stroke-width="1"/>
<polygon points="647.4,601.5 645.2,600.1 642.6,599.2 641.2,599.2 641.2,603.8 642.6,603.8 645.2,602.9" fill="#111"/>
<polygon points="683.5,601.5 685.7,602.9 688.3,603.8 689.7,603.8 689.7,599.2 688.3,599.2 685.7,600.1" fill="#111"/>
<text x="662" y="593.3" font-size="11" text-anchor="middle" dominant-baseline="central">70</text>
<line x1="647.5" y1="598" x2="647.5" y2="634.7" stroke="#9a9a9a" stroke-width="1"/>
<line x1="683.5" y1="598" x2="683.5" y2="633" stroke="#9a9a9a" stroke-width="1"/>
<path d="M647.4 634.7 C648 622 656 614.8 665.4 614.8 C675 614.8 683 622 683.5 633" stroke="#9a9a9a" stroke-width="1" fill="none" stroke-dasharray="2,1.5"/>
<line x1="595.5" y1="646.4" x2="595.5" y2="742.1" stroke="#111" stroke-width="1"/>
<polygon points="595.2,646.4 593.8,648.6 592.9,651.2 592.9,652.6 597.5,652.6 597.5,651.2 596.6,648.6" fill="#111"/>
<polygon points="595.2,742.1 596.6,739.9 597.5,737.3 597.5,735.9 592.9,735.9 592.9,737.3 593.8,739.9" fill="#111"/>
<text x="0" y="0" font-size="11" text-anchor="middle" dominant-baseline="central" transform="translate(586.2 699.1) rotate(-90)">190</text>
<line x1="592.1" y1="646.5" x2="654.2" y2="646.5" stroke="#9a9a9a" stroke-width="1"/>
<line x1="592.1" y1="742.5" x2="645" y2="742.5" stroke="#111" stroke-width="1"/>
<circle cx="647.7" cy="646.3" r="2" stroke="#5a5a5a" stroke-width="1" fill="none"/>
<line x1="647.5" y1="642.3" x2="647.5" y2="652.3" stroke="#5a5a5a" stroke-width="1"/>
<circle cx="683.4" cy="646.3" r="2" stroke="#5a5a5a" stroke-width="1" fill="none"/>
<line x1="683.5" y1="642.3" x2="683.5" y2="652.3" stroke="#5a5a5a" stroke-width="1"/>
<circle cx="648.1" cy="742.4" r="2" stroke="#5a5a5a" stroke-width="1" fill="none"/>
<line x1="648.5" y1="738.4" x2="648.5" y2="748.4" stroke="#5a5a5a" stroke-width="1"/>
<circle cx="682.75" cy="742.4" r="2" stroke="#5a5a5a" stroke-width="1" fill="none"/>
<line x1="682.5" y1="738.4" x2="682.5" y2="748.4" stroke="#5a5a5a" stroke-width="1"/>
<line x1="678.4" y1="646.5" x2="690" y2="646.5" stroke="#5a5a5a" stroke-width="1"/>
<line x1="649" y1="646.5" x2="654" y2="646.5" stroke="#5a5a5a" stroke-width="1"/>
<line x1="678" y1="742.5" x2="690" y2="742.5" stroke="#5a5a5a" stroke-width="1"/>
<line x1="650" y1="742.5" x2="654" y2="742.5" stroke="#5a5a5a" stroke-width="1"/>
<path d="M622.6 726 L622.6 662.5 L624 661 L624 651.1 L635 651.4 L635.7 665.4 L641.4 658.1 L641.4 649.3 L647.7 649.3" stroke="#5a5a5a" stroke-width="1" fill="none"/>
<path d="M640.9 643.4 L640.9 634.2 L647.2 633.5 L647.2 643.4 Z" stroke="#5a5a5a" stroke-width="1" fill="none"/>
<path d="M683.8 643.4 L683.8 633.7 L689.7 634.2 L689.7 643.4 Z" stroke="#5a5a5a" stroke-width="1" fill="none"/>
<path d="M689.7 639.5 L694.3 640 L694.5 748.6 L690 748.6" stroke="#5a5a5a" stroke-width="1" fill="none"/>
<path d="M695.1 650.5 L701 649.8 L701.5 662 L739.8 661.1 L742.5 633.2 L752.9 633.2 L752.9 648.8 L769.3 648.8 L769.8 636.8 L943.8 636.8 L952 644.2 L952 744 L943.8 751.6 L769.8 751.6 L769.3 740.7 L752.9 740.7 L752.9 754.9 L742.5 754.9 L739.8 727.6 L701.5 727 L701.3 738.3 L695 738.3 L695 725.2" stroke="#5a5a5a" stroke-width="1" fill="none"/>
<line x1="890.5" y1="636.8" x2="890.5" y2="751.6" stroke="#5a5a5a" stroke-width="1"/>
<path d="M622.7 726.1 L623.7 737.9 L634.9 737.4 L635.4 723.2 L641.25 730 L641.25 739.3 L647.1 739.3" stroke="#5a5a5a" stroke-width="1" fill="none"/>
<path d="M641.25 745.2 L641.25 754.5 L657.4 754.5 L665.5 758.4 L673.5 754.5 L689.6 754.5 L689.6 745.2" stroke="#5a5a5a" stroke-width="1" fill="none"/>
<path d="M689.6 734.9 L689.6 739.3 L684 739.3" stroke="#5a5a5a" stroke-width="1" fill="none"/>
<path d="M684 649.3 L689.7 649.3 L689.7 652.5" stroke="#5a5a5a" stroke-width="1" fill="none"/>
</svg>
</body></html>
